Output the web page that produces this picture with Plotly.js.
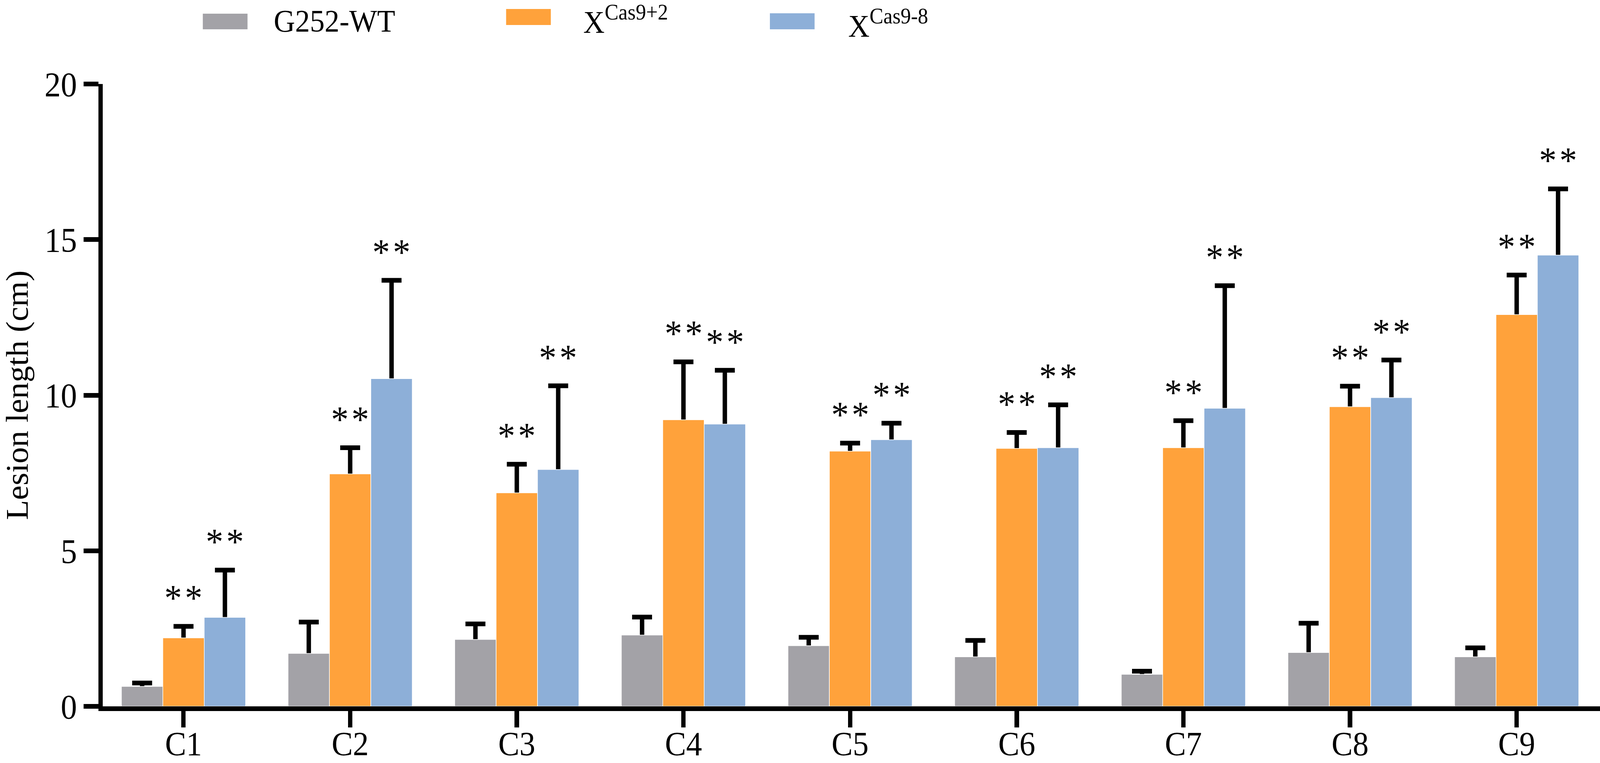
<!DOCTYPE html>
<html>
<head>
<meta charset="utf-8">
<script src="https://cdn.plot.ly/plotly-3.0.1.min.js"></script>
<style>html,body{margin:0;padding:0;background:#fff;overflow:hidden;}#chart{width:4331px;height:1953px;transform-origin:0 0;}</style>
</head>
<body>
<div id="chart"></div>
<script>
// ---- data ----
const categories = ["C1","C2","C3","C4","C5","C6","C7","C8","C9"];
const seriesNames = ["G252-WT", "X<sup>Cas9+2</sup>", "X<sup>Cas9-8</sup>"];
const wtMean   = [0.64, 1.70, 2.15, 2.29, 1.95, 1.59, 1.03, 1.73, 1.59];
const wtErr    = [0.11, 1.01, 0.50, 0.58, 0.27, 0.53, 0.10, 0.94, 0.29];
const p2Mean   = [2.20, 7.47, 6.86, 9.21, 8.20, 8.29, 8.31, 9.63, 12.59];
const p2Err    = [0.37, 0.84, 0.92, 1.86, 0.26, 0.51, 0.87, 0.66, 1.27];
const m8Mean   = [2.86, 10.53, 7.61, 9.07, 8.57, 8.31, 9.58, 9.92, 14.50];
const m8Err    = [1.52, 3.16, 2.69, 1.73, 0.53, 1.38, 3.94, 1.21, 2.13];
const p2Sig    = ["**","**","**","**","**","**","**","**","**"];
const m8Sig    = ["**","**","**","**","**","**","**","**","**"];
const yTicks   = [0, 5, 10, 15, 20];

// ---- styling ----
const colors = ["#A3A2A7", "#FFA23B", "#8DAFD8"];
const FONT = "Liberation Serif, Times New Roman, serif";
const W = 4331, H = 1953;
const M = {l: 278, r: 0, t: 215, b: 145};
const bargap = 0.255;
const slot = (1 - bargap) / 3;

// fit the 4331x1953 drawing into whatever viewport the browser really has
(function fit() {
  const el = document.getElementById("chart");
  const sx = window.innerWidth / W, sy = window.innerHeight / H;
  el.style.transform = "scale(" + sx + "," + sy + ")";
})();

const means = [wtMean, p2Mean, m8Mean];
const errs = [wtErr, p2Err, m8Err];
const traces = [];
// carriers for the error bars, drawn beneath the visible bars
for (let s = 0; s < 3; s++) {
  traces.push({
    type: "bar", x: categories, y: means[s], offsetgroup: "g" + s,
    marker: {color: "rgba(0,0,0,0)"}, showlegend: false, hoverinfo: "skip",
    error_y: {type: "data", array: errs[s], symmetric: true, visible: true,
              color: "#000", thickness: 12, width: 27}
  });
}
for (let s = 0; s < 3; s++) {
  traces.push({
    type: "bar", x: categories, y: means[s], offsetgroup: "g" + s, name: seriesNames[s],
    marker: {color: colors[s], line: {color: "#ffffff", width: 1.5}}, showlegend: false
  });
}

const plotW = W - M.l - M.r, plotH = H - M.t - M.b;
const px2x = px => (px - M.l) / plotW;
const py2y = py => (H - M.b - py) / plotH;

const annotations = [];
const sigSets = [[p2Sig, p2Mean, p2Err, 0], [m8Sig, m8Mean, m8Err, slot]];
sigSets.forEach(([sig, mean, err, off]) => {
  categories.forEach((c, i) => {
    if (!sig[i]) return;
    annotations.push({
      x: i + off, y: mean[i] + err[i], xref: "x", yref: "y",
      text: sig[i].split("").join("\u200A"), showarrow: false,
      xanchor: "center", yanchor: "middle", yshift: 72,
      font: {family: FONT, size: 95, color: "#000"}
    });
  });
});

// legend drawn as swatches + text
const legendRect = [[549, 670, 35, 75], [1370, 1491, 23, 64], [2084, 2205, 34, 75]];
const legendText = [[739, 54], [1577, 50], [2294, 60]];
const shapes = [];
for (let s = 0; s < 3; s++) {
  const r = legendRect[s];
  shapes.push({type: "rect", xref: "paper", yref: "paper",
    x0: px2x(r[0]), x1: px2x(r[1]), y0: py2y(r[3]), y1: py2y(r[2]),
    fillcolor: colors[s], line: {width: 0}});
  annotations.push({xref: "paper", yref: "paper", x: px2x(legendText[s][0]), y: py2y(legendText[s][1]),
    xanchor: "left", yanchor: "middle", showarrow: false, text: seriesNames[s],
    font: {family: FONT, size: 80, color: "#000"}});
}

const layout = {
  width: W, height: H,
  margin: M,
  paper_bgcolor: "#fff", plot_bgcolor: "#fff",
  barmode: "group", bargap: bargap, bargroupgap: 0,
  showlegend: false,
  font: {family: FONT, color: "#000"},
  xaxis: {
    type: "category", categoryorder: "array", categoryarray: categories,
    range: [-0.485, 8.5], showgrid: false, zeroline: false,
    showline: true, linewidth: 12, linecolor: "#000",
    ticks: "outside", ticklen: 42, tickwidth: 12, tickcolor: "#000",
    ticklabelstandoff: -32,
    tickfont: {family: FONT, size: 86, color: "#000"}
  },
  yaxis: {
    range: [0, 20], tickvals: yTicks, ticktext: yTicks.map(String),
    showgrid: false, zeroline: false,
    showline: true, linewidth: 12, linecolor: "#000",
    ticks: "outside", ticklen: 40, tickwidth: 12, tickcolor: "#000",
    tickfont: {family: FONT, size: 88, color: "#000"},
    title: {text: "Lesion length (cm)", font: {family: FONT, size: 84, color: "#000"}, standoff: 30}
  },
  shapes: shapes,
  annotations: annotations
};

Plotly.newPlot("chart", traces, layout, {displayModeBar: false, staticPlot: true});
</script>
</body>
</html>
